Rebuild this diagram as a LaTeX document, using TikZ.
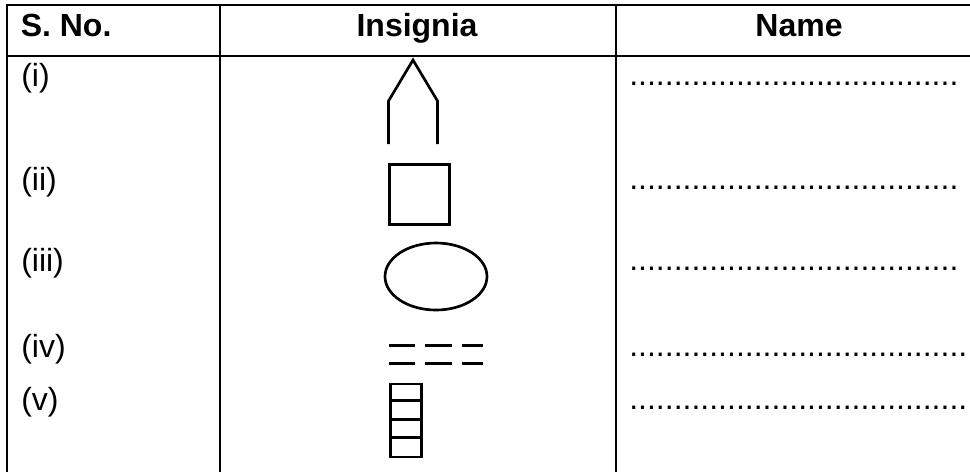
\documentclass[tikz,border=0pt]{standalone}
\usepackage{fontspec}
\setmainfont{Liberation Sans}
\tikzset{
  x=0.75pt,y=-0.75pt,
  rule/.style={line width=1.7pt,line cap=butt},
  ins/.style={line width=2pt},
  dashbar/.style={line width=2.2pt},
  head/.style={font=\fontsize{24}{26}\selectfont\bfseries,anchor=base,inner sep=0pt},
  lab/.style={font=\fontsize{24}{26}\selectfont,anchor=base west,inner sep=0pt},
  dotsrow/.style={font=\fontsize{24}{26}\selectfont,anchor=base west,inner sep=0pt}
}
\begin{document}
\begin{tikzpicture}
\useasboundingbox (0,0) rectangle (970,472);
\fill[white] (0,0) rectangle (970,472);
% table
\coordinate (tl) at (7,5); \coordinate (tr) at (970,5);
\coordinate (bl) at (7,472);
\coordinate (hl) at (7,56); \coordinate (hr) at (970,56);
\coordinate (c1t) at (220,5); \coordinate (c1b) at (220,472);
\coordinate (c2t) at (616,5); \coordinate (c2b) at (616,472);
\draw[rule] (tr) -- (tl) -- (bl);
\draw[rule] (hl) -- (hr);
\draw[rule] (c1t) -- (c1b);
\draw[rule] (c2t) -- (c2b);
% headers
\node[head,anchor=base west] (h1) at (20.5,36.5) {S. No.};
\node[head] (h2) at (417,36.5) {Insignia};
\node[head] (h3) at (799,36.5) {Name};
% row labels
\node[lab] (r1) at (21,86) {(i)};
\node[lab] (r2) at (21,190) {(ii)};
\node[lab] (r3) at (21,271) {(iii)};
\node[lab] (r4) at (21,357) {(iv)};
\node[lab] (r5) at (21,410) {(v)};
% dotted rows
\node[dotsrow] (d1) at (629,85.5) {.....................................};
\node[dotsrow] (d2) at (629,189.5) {.....................................};
\node[dotsrow] (d3) at (629,270.5) {.....................................};
\node[dotsrow] (d4) at (629,356.5) {......................................};
\node[dotsrow] (d5) at (629,409.5) {......................................};
% insignia i
\coordinate (a1) at (388.5,144); \coordinate (a2) at (388.5,101); \coordinate (a3) at (413,60);
\coordinate (a4) at (437.5,101); \coordinate (a5) at (437.5,144);
\draw[ins,line join=miter] (a1) -- (a2) -- (a3) -- (a4) -- (a5);
% insignia ii
\node[draw,ins,minimum width=45pt,minimum height=45pt,inner sep=0pt] (sq) at (419.5,194.5) {};
% insignia iii
\draw[ins] (436,276.5) ellipse (51 and 33.5);
% insignia iv
\foreach \x/\xe in {389/415,425/452,462/483}{
  \draw[dashbar] (\x,345.5) -- (\xe,345.5);
  \draw[dashbar] (\x,363.5) -- (\xe,363.5);
}
% insignia v
\node[draw,ins,minimum width=23.25pt,minimum height=54.75pt,inner sep=0pt] (lad) at (406,420.5) {};
\draw[ins] (lad.west |- 0,400.5) -- (lad.east |- 0,400.5);
\draw[ins] (lad.west |- 0,419.5) -- (lad.east |- 0,419.5);
\draw[ins] (lad.west |- 0,437.5) -- (lad.east |- 0,437.5);
\end{tikzpicture}
\end{document}
